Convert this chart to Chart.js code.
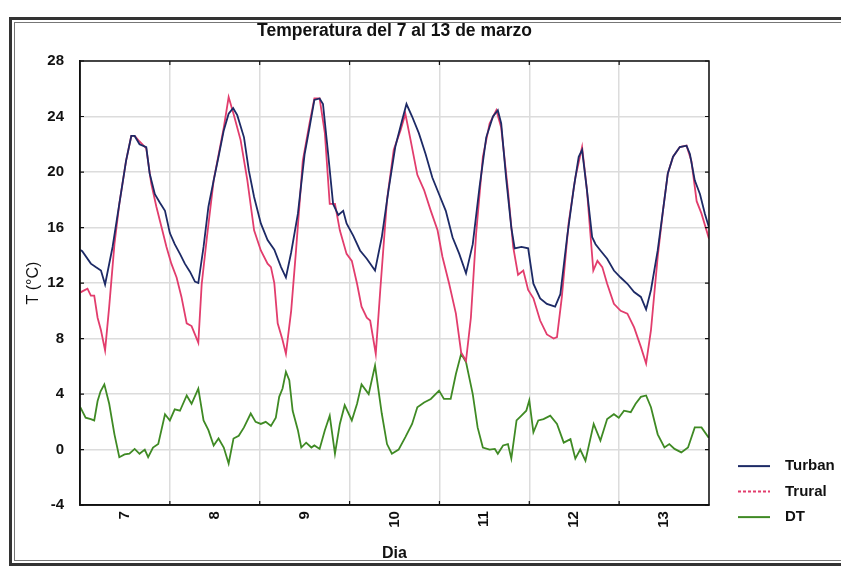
<!DOCTYPE html>
<html lang="es">
<head>
<meta charset="UTF-8">
<title>Temperatura del 7 al 13 de marzo</title>
<script src="https://cdn.jsdelivr.net/npm/chart.js"></script>
<style>
    body { margin: 0; background: #fff; }
    .wrap { position: relative; width: 841px; height: 568px; }
    .frame {
        position: absolute; left: 9px; top: 17px; width: 850px; height: 543px;
        border: 3px solid #333; box-shadow: inset 0 0 0 2px #fff, inset 0 0 0 3px #777;
        pointer-events: none;
    }
</style>
</head>
<body>
<div class="wrap">
    <canvas id="tempChart" width="841" height="568"></canvas>
    <div class="frame"></div>
</div>

<script>
// Días (etiquetas del eje X, centradas en cada día)
const dias = ['7', '8', '9', '10', '11', '12', '13'];

// Turban: horas desde el 7 de marzo 00:00 y temperatura
const turbanHoras = [0, 0.6, 2.9, 4.2, 5.6, 6.7, 8.7, 10.5, 12.3, 13.7, 14.6, 15.9, 17.7, 18.6, 20, 21.3, 22.7,
    24, 25.3, 26.7, 28, 29.4, 30.7, 31.6, 33, 34.3, 35.7, 37, 38.4, 39.7, 40.9, 42, 43.8, 45.1, 46.5,
    48.3, 50.1, 51.9, 53.7, 55, 56.4, 58.2, 60, 61.3, 62.6, 64, 64.9, 66.2, 67.6, 69, 70.3, 71.2,
    73, 74.8, 76.6, 78.8, 80.6, 82.4, 84.2, 86, 87.2, 88.7, 90.5, 92.3, 94.1, 95.9,
    97.7, 99.5, 101.3, 103.1, 104.9, 106.7, 108.5, 110.3, 111.6, 112.5, 113.8, 115.2, 116.1, 117.9, 119.7,
    121.1, 122.9, 124.7, 126.9, 128.3, 130.1, 131.9, 133.2, 134.1, 135.4, 136.8, 137.7, 139, 140.8, 142.6,
    144.4, 146.2, 148, 149.8, 151.2, 152.5, 154.3, 155.7, 157, 158.4, 160.2, 162, 162.9, 164.2, 165.6, 166.9, 168];
const turban = [14.4, 14.3, 13.4, 13.15, 12.9, 11.9, 14.6, 17.7, 20.8, 22.6, 22.6, 22.0, 21.8, 19.9, 18.4, 17.8, 17.2,
    15.6, 14.8, 14.1, 13.4, 12.8, 12.1, 12.0, 14.6, 17.5, 19.4, 21.1, 23.0, 24.2, 24.6, 24.1, 22.5, 20.1, 18.2,
    16.3, 15.1, 14.4, 13.15, 12.4, 14.2, 17.0, 21.3, 23.2, 25.2, 25.3, 24.9, 21.5, 17.7, 16.9, 17.2, 16.3,
    15.4, 14.35, 13.75, 12.9, 15.3, 18.7, 21.8, 23.7, 24.9, 24.0, 22.8, 21.3, 19.6, 18.4,
    17.2, 15.3, 14.1, 12.7, 14.8, 18.9, 22.5, 24.0, 24.45, 23.5, 19.6, 16.0, 14.5, 14.6, 14.5,
    11.95, 10.9, 10.5, 10.3, 11.2, 15.3, 18.9, 21.1, 21.6, 18.7, 15.3, 14.8, 14.35, 13.75, 12.9,
    12.4, 11.95, 11.35, 11.0, 10.1, 11.5, 14.35, 17.2, 19.9, 21.1, 21.8, 21.9, 21.3, 19.4, 18.4, 17.0, 16.0];

// Trural
const truralHoras = [0, 0.6, 2, 2.9, 3.8, 4.7, 5.6, 6.7, 7.8, 9.2, 10.5, 12.3, 13.7, 14.6, 15.9, 17.7, 19, 20.4, 21.8, 23.1,
    24.4, 25.8, 27.1, 28.5, 29.8, 30.7, 31.6, 32.5, 33.9, 35.7, 38.4, 39.7, 41, 42.9, 44.7, 46.5,
    48.3, 50.1, 51, 51.9, 52.8, 54.1, 55, 56.4, 57.7, 59.5, 61.3, 62.6, 64, 65.4, 66.7, 68.1, 69.4, 71.2,
    72.6, 74, 75.2, 76.6, 77.5, 79, 80.2, 82, 83.8, 85.6, 86.9, 88.3, 90.1, 91.9, 93.7, 95.5,
    96.8, 98.6, 100.4, 101.8, 103.1, 104.4, 105.8, 107.6, 109.4, 111.2, 112.5, 114.3, 115.7, 117, 118.4, 119.7,
    121.1, 122.9, 124.7, 126.5, 127.4, 128.7, 130.5, 132.3, 134.1, 135.4, 137.1, 138.2, 139.5, 140.8, 142.6,
    144.4, 146.2, 148, 149.8, 151.2, 152.5, 154.3, 155.7, 157, 158.4, 160.2, 162, 163.3, 164.7, 166, 168];
const trural = [11.3, 11.4, 11.6, 11.1, 11.1, 9.5, 8.6, 7.15, 10.3, 14.8, 17.7, 20.8, 22.6, 22.6, 22.2, 21.7, 19.2, 17.5, 16.0, 14.6,
    13.4, 12.4, 11.0, 9.1, 8.9, 8.3, 7.7, 11.9, 15.3, 19.4, 23.2, 25.4, 24.2, 22.3, 19.4, 15.8,
    14.35, 13.4, 13.15, 12.0, 9.1, 7.9, 6.9, 10.0, 14.35, 20.8, 23.5, 25.3, 25.3, 22.8, 17.7, 17.7, 15.8, 14.1,
    13.6, 11.95, 10.3, 9.5, 9.3, 6.9, 11.5, 18.0, 21.6, 23.0, 24.2, 22.3, 19.8, 18.7, 17.2, 15.8,
    13.9, 11.95, 9.8, 7.0, 6.4, 9.5, 15.55, 21.1, 23.5, 24.45, 23.2, 18.7, 14.6, 12.6, 12.9, 11.5,
    10.9, 9.3, 8.3, 8.0, 8.1, 11.0, 16.3, 19.6, 21.8, 18.7, 12.9, 13.6, 13.15, 11.95, 10.5,
    10.0, 9.8, 8.8, 7.4, 6.2, 8.6, 13.9, 17.2, 19.9, 21.1, 21.8, 21.9, 20.8, 17.9, 17.0, 15.2];

// DT
const dtHoras = [0, 1.5, 2.9, 3.8, 4.7, 5.5, 6.5, 7.8, 9.2, 10.5, 11.9, 13.2, 14.6, 15.9, 17.3, 18.2, 19.5, 20.9, 22.7,
    24, 25.3, 26.7, 28.5, 29.8, 31.6, 33, 34.3, 35.7, 37, 38.4, 39.7, 41, 42.4, 43.8, 45.6, 46.9,
    48.3, 49.6, 51, 52.3, 53.2, 54.1, 55, 55.9, 56.8, 58.2, 59.1, 60.4, 61.8, 62.6, 64, 65.4, 66.7, 68.1, 69.4, 70.7,
    72.6, 74, 75.2, 77.1, 78.8, 80.6, 82, 83.3, 85.1, 86.9, 88.7, 90.1, 91.9, 93.7, 95.9,
    97.2, 99, 100.4, 101.8, 103.1, 104.9, 106.2, 107.6, 109.4, 110.8, 111.6, 113, 114.3, 115.2, 116.6, 117.9, 119.2,
    120, 121.1, 122.4, 123.8, 125.6, 127.4, 129.2, 131, 132.3, 133.6, 135, 137.2, 139, 140.8, 142.6,
    143.9, 145.3, 147.1, 148.4, 149.8, 151.2, 152.5, 154.3, 156.1, 157.4, 158.8, 160.6, 162.4, 164.2, 166, 167.8, 168];
const dt = [3.1, 2.3, 2.2, 2.1, 3.5, 4.2, 4.7, 3.3, 1.1, -0.55, -0.35, -0.3, 0.05, -0.3, 0.0, -0.55, 0.15, 0.4, 2.55,
    2.1, 2.9, 2.8, 3.9, 3.3, 4.4, 2.1, 1.4, 0.3, 0.8, 0.15, -1.0, 0.8, 1.0, 1.6, 2.6, 2.0,
    1.85, 2.0, 1.7, 2.3, 3.8, 4.4, 5.6, 5.0, 2.8, 1.4, 0.15, 0.5, 0.15, 0.3, 0.05, 1.4, 2.45, -0.3, 1.85, 3.2,
    2.1, 3.3, 4.7, 4.0, 6.05, 2.6, 0.4, -0.3, 0.0, 0.9, 1.85, 3.05, 3.4, 3.65, 4.25,
    3.65, 3.65, 5.45, 6.9, 6.3, 4.0, 1.6, 0.15, 0.0, 0.05, -0.3, 0.3, 0.4, -0.65, 2.1, 2.45, 2.8,
    3.55, 1.25, 2.1, 2.2, 2.45, 1.85, 0.5, 0.75, -0.65, 0.0, -0.8, 1.85, 0.65, 2.2, 2.55,
    2.3, 2.8, 2.7, 3.3, 3.8, 3.9, 3.05, 1.1, 0.15, 0.4, 0.05, -0.2, 0.15, 1.6, 1.6, 0.9, 0.9];

const yTicks = [-4, 0, 4, 8, 12, 16, 20, 24, 28];

const FONT = "'Liberation Sans', Arial, sans-serif";
const colores = { turban: '#1d2a66', trural: '#e23d6d', dt: '#3f8a24' };

function puntos(horas, valores) {
    return horas.map((h, i) => ({ x: h, y: valores[i] }));
}

// Marco del área de gráfico, marcas interiores y leyenda
const marcoPlugin = {
    id: 'marco',
    afterDraw(chart) {
        const { ctx, chartArea: a, scales: { x, y } } = chart;
        ctx.save();
        ctx.strokeStyle = '#111';
        ctx.lineWidth = 1.5;
        ctx.strokeRect(a.left, a.top, a.right - a.left, a.bottom - a.top);
        ctx.lineWidth = 1.2;
        ctx.beginPath();
        for (let d = 1; d < dias.length; d++) {
            const px = x.getPixelForValue(d * 24);
            ctx.moveTo(px, a.bottom); ctx.lineTo(px, a.bottom - 4);
            ctx.moveTo(px, a.top); ctx.lineTo(px, a.top + 4);
        }
        yTicks.forEach(v => {
            const py = y.getPixelForValue(v);
            ctx.moveTo(a.left, py); ctx.lineTo(a.left + 4, py);
            ctx.moveTo(a.right, py); ctx.lineTo(a.right - 4, py);
        });
        ctx.stroke();

        // leyenda
        const lx = a.right + 29;
        let ly = a.bottom - 39;
        ctx.font = 'bold 15px ' + FONT;
        ctx.textBaseline = 'middle';
        ctx.textAlign = 'left';
        chart.data.datasets.forEach(ds => {
            ctx.strokeStyle = ds.borderColor;
            ctx.lineWidth = 2;
            ctx.setLineDash(ds.label === 'Trural' ? [3, 2] : []);
            ctx.beginPath();
            ctx.moveTo(lx, ly); ctx.lineTo(lx + 32, ly);
            ctx.stroke();
            ctx.setLineDash([]);
            ctx.fillStyle = '#111';
            ctx.fillText(ds.label, lx + 47, ly);
            ly += 25.5;
        });
        ctx.restore();
    }
};

new Chart(document.getElementById('tempChart'), {
    type: 'line',
    data: {
        datasets: [
            { label: 'Turban', data: puntos(turbanHoras, turban), borderColor: colores.turban },
            { label: 'Trural', data: puntos(truralHoras, trural), borderColor: colores.trural },
            { label: 'DT', data: puntos(dtHoras, dt), borderColor: colores.dt }
        ]
    },
    options: {
        responsive: false,
        animation: false,
        layout: { padding: { left: 20, right: 132, top: 14, bottom: 1 } },
        elements: {
            line: { borderWidth: 1.8, tension: 0 },
            point: { radius: 0 }
        },
        scales: {
            x: {
                type: 'linear',
                min: 0,
                max: 168,
                grid: {
                    color: c => (c.tick && c.tick.value % 24 === 0) ? '#dcdcdc' : 'transparent',
                    lineWidth: 1.5,
                    drawTicks: false
                },
                border: { color: '#111', width: 1.5 },
                ticks: {
                    stepSize: 12,
                    autoSkip: false,
                    minRotation: 90,
                    maxRotation: 90,
                    padding: 6,
                    color: '#111',
                    font: { family: FONT, size: 15, weight: 'bold' },
                    callback: v => (v % 24 === 12) ? dias[(v - 12) / 24] : ''
                },
                title: {
                    display: true,
                    text: 'Dia',
                    color: '#111',
                    font: { family: FONT, size: 16, weight: 'bold' },
                    padding: { top: 10, bottom: 4 }
                }
            },
            y: {
                min: -4,
                max: 28,
                afterBuildTicks: s => { s.ticks = yTicks.map(v => ({ value: v })); },
                afterFit: s => { s.width = 60; },
                grid: { color: '#dcdcdc', lineWidth: 1.5, drawTicks: false },
                border: { color: '#111', width: 1.5 },
                ticks: {
                    padding: 16,
                    color: '#111',
                    font: { family: FONT, size: 15, weight: 'bold' }
                },
                title: {
                    display: true,
                    text: 'T (°C)',
                    color: '#111',
                    font: { family: FONT, size: 16, weight: 'normal' },
                    padding: { top: 4, bottom: 4 }
                }
            }
        },
        plugins: {
            legend: { display: false },
            tooltip: { enabled: false },
            title: {
                display: true,
                fullSize: false,
                text: 'Temperatura del 7 al 13 de marzo',
                color: '#111',
                font: { family: FONT, size: 17.5, weight: 'bold' },
                padding: { top: 7, bottom: 19 }
            }
        }
    },
    plugins: [marcoPlugin]
});
</script>
</body>
</html>
